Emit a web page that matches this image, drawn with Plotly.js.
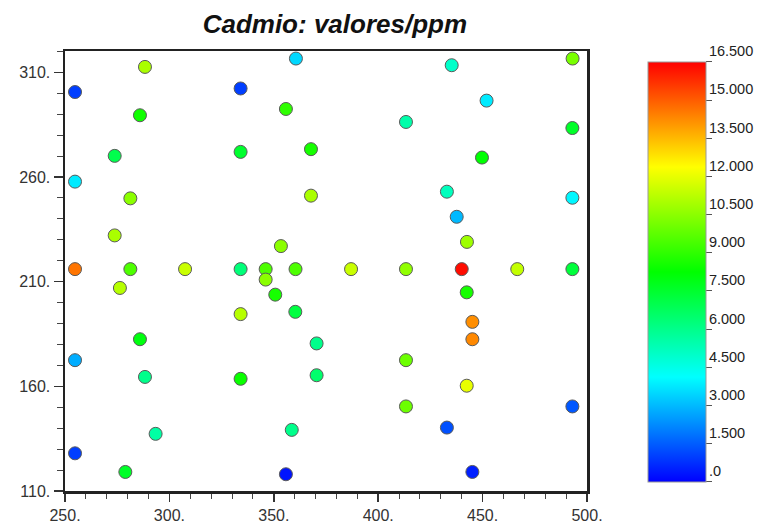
<!DOCTYPE html>
<html>
<head>
<meta charset="utf-8">
<script src="https://cdn.plot.ly/plotly-3.0.1.min.js"></script>
<style>html,body{margin:0;padding:0;background:#fff;}#chart{width:774px;height:524px;}</style>
</head>
<body>
<div id="chart"></div>
<script>
// Sample positions (x, y) and cadmium values (ppm)
const xVals = [288.3, 254.8, 334.1, 285.9, 355.8, 273.8, 334.1, 254.8, 281.3, 273.8,
               353.4, 254.8, 281.3, 307.5, 334.1, 346.1, 360.4, 346.1, 276.3, 360.6,
               435.2, 493.1, 451.9, 413.3, 493.0, 367.8, 449.7, 367.8, 432.9, 493.0,
               437.6, 442.5, 387.0, 413.3, 440.0, 466.6, 493.0, 350.7, 360.3, 334.1,
               285.9, 254.8, 288.3, 334.1, 293.4, 358.6, 254.8, 278.9, 355.8, 442.4,
               445.1, 445.1, 370.5, 413.3, 370.5, 442.4, 413.3, 493.0, 432.9, 445.1];
const yVals = [312.6, 300.6, 302.3, 289.5, 292.5, 270.1, 272.0, 257.8, 249.8, 232.1,
               227.0, 216.0, 216.0, 216.0, 216.0, 216.0, 216.0, 211.0, 207.0, 316.6,
               313.4, 316.6, 296.5, 286.3, 283.4, 273.3, 269.3, 251.1, 253.0, 250.1,
               241.0, 229.0, 216.0, 216.0, 216.0, 216.0, 216.0, 203.8, 195.6, 194.5,
               182.5, 172.5, 164.5, 163.6, 137.3, 139.2, 128.0, 119.1, 118.0, 204.9,
               190.8, 182.5, 180.5, 172.5, 165.3, 160.3, 150.4, 150.4, 140.3, 119.1];
const cdVals = [11.0, 1.0, 1.0, 8.5, 9.0, 7.0, 7.5, 3.8, 10.5, 11.0,
                10.5, 14.6, 9.5, 11.5, 6.3, 9.5, 9.5, 10.5, 11.2, 3.5,
                5.0, 10.2, 3.8, 5.5, 7.6, 8.6, 8.2, 11.0, 5.2, 4.0,
                3.0, 10.8, 11.5, 10.6, 16.3, 11.4, 7.3, 8.6, 7.2, 11.2,
                8.0, 2.8, 6.0, 8.4, 5.6, 6.0, 1.0, 7.6, 0.3, 8.6,
                14.2, 14.3, 6.0, 10.0, 6.5, 12.0, 10.0, 1.4, 1.3, 0.5];

const cbTickVals = [0, 1.5, 3, 4.5, 6, 7.5, 9, 10.5, 12, 13.5, 15, 16.5];
const cbTickText = [".0", "1.500", "3.000", "4.500", "6.000", "7.500", "9.000",
                    "10.500", "12.000", "13.500", "15.000", "16.500"];

const rainbow = [[0, '#0000ff'], [0.25, '#00ffff'], [0.5, '#00ff00'], [0.75, '#ffff00'], [1, '#ff0000']];

const trace = {
  type: 'scatter',
  mode: 'markers',
  x: xVals,
  y: yVals,
  marker: {
    size: 13,
    color: cdVals,
    cmin: 0,
    cmax: 16.5,
    colorscale: rainbow,
    line: {color: '#5a5a5a', width: 1},
    colorbar: {
      x: 1.117, xanchor: 'left', xpad: 0,
      y: 0.498, yanchor: 'middle', ypad: 0,
      len: 420, lenmode: 'pixels',
      thickness: 58,
      outlinewidth: 1, outlinecolor: '#999',
      tickmode: 'array', tickvals: cbTickVals, ticktext: cbTickText,
      ticks: 'outside', ticklen: 6, tickcolor: '#555',
      ticklabelposition: 'outside top',
      tickfont: {family: 'Liberation Sans, Arial, sans-serif', size: 14.5, color: '#222'}
    }
  },
  hoverinfo: 'x+y'
};

const tickFont = {family: 'Liberation Sans, Arial, sans-serif', size: 16, color: '#333'};

const layout = {
  width: 774, height: 524,
  margin: {l: 65, r: 187, t: 51, b: 33},
  paper_bgcolor: '#fff', plot_bgcolor: '#fff',
  showlegend: false,
  title: {
    text: 'Cadmio: valores/ppm',
    font: {family: 'Liberation Sans, Arial, sans-serif', size: 26, weight: 'bold', style: 'italic', color: '#111'},
    xref: 'paper', x: 0.517, xanchor: 'center',
    yref: 'container', y: 0.955, yanchor: 'middle'
  },
  xaxis: {
    range: [250, 500], tickmode: 'linear', tick0: 250, dtick: 50, ticksuffix: '.',
    showgrid: false, zeroline: false,
    showline: true, linecolor: '#222', linewidth: 2.5, mirror: true,
    ticks: 'outside', ticklen: 8, tickwidth: 1.5, tickcolor: '#333',
    minor: {dtick: 10, tick0: 250, ticks: 'outside', ticklen: 5, tickwidth: 1, tickcolor: '#444', showgrid: false},
    tickfont: tickFont
  },
  yaxis: {
    range: [110, 320.2], tickmode: 'linear', tick0: 110, dtick: 50, ticksuffix: '.',
    showgrid: false, zeroline: false,
    showline: true, linecolor: '#222', linewidth: 2.5, mirror: true,
    ticks: 'outside', ticklen: 9, tickwidth: 1.5, tickcolor: '#333',
    minor: {dtick: 10, tick0: 110, ticks: 'outside', ticklen: 6, tickwidth: 1, tickcolor: '#444', showgrid: false},
    tickfont: tickFont
  }
};

Plotly.newPlot('chart', [trace], layout, {displayModeBar: false, staticPlot: true});
</script>
</body>
</html>
